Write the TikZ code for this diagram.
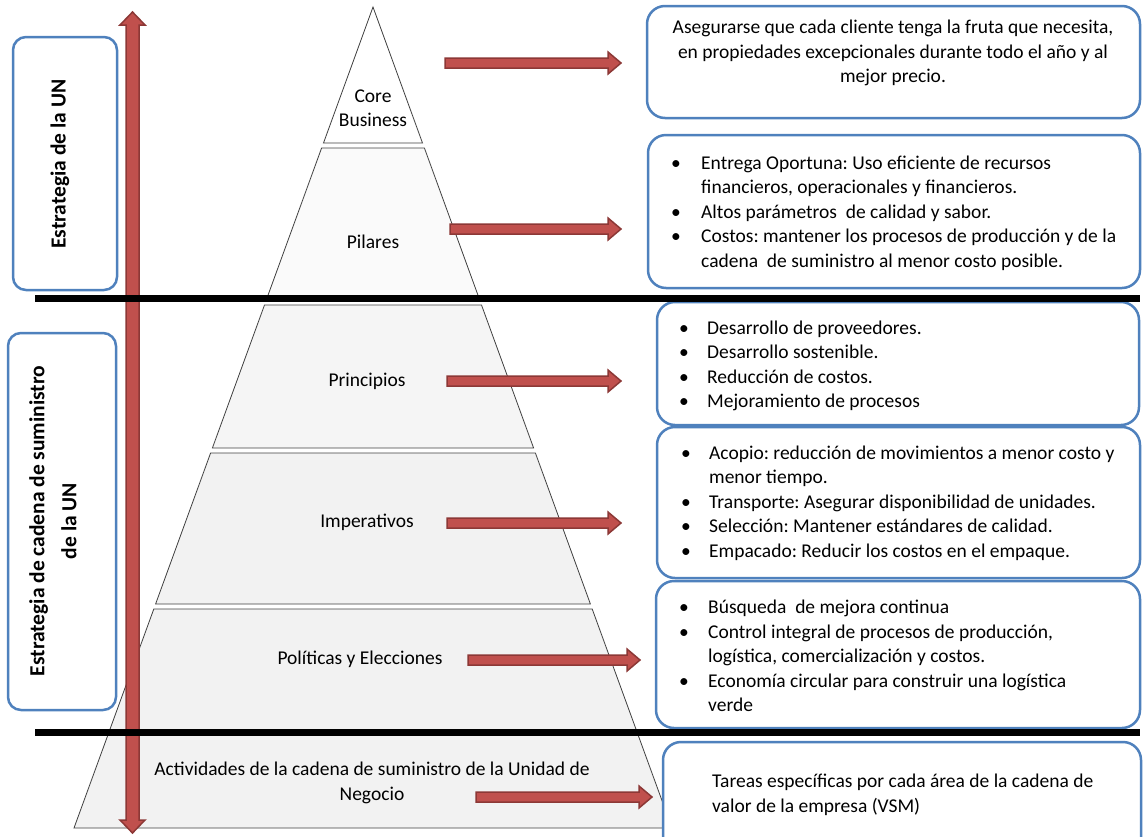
\documentclass[tikz,border=0pt]{standalone}
\usepackage{fontspec}
\setmainfont{Carlito}
\frenchspacing
\definecolor{boxblue}{HTML}{4F81BD}
\definecolor{arrred}{HTML}{C0504D}
\definecolor{arrdark}{HTML}{8C3836}
\newcommand{\bul}[1]{\makebox[#1][l]{\textbullet}}
\newcommand{\hblock}[3]{%
  \draw[redarr] (#1,#3-5) -- (#2-13,#3-5) -- (#2-13,#3-11) -- (#2,#3) -- (#2-13,#3+11) -- (#2-13,#3+5) -- (#1,#3+5) -- cycle;}
\begin{document}
\begin{tikzpicture}[x=1pt,y=-1pt,
  sect/.style={draw=black!75, line width=0.8pt, fill=black!5},
  bluebox/.style={draw=boxblue, line width=2.5pt, rounded corners=18pt, fill=white},
  leftbox/.style={draw=boxblue, line width=2.5pt, rounded corners=13pt, fill=white},
  lbl/.style={font=\fontsize{19.5}{24.5}\selectfont, align=center, inner sep=0pt},
  lst/.style={font=\fontsize{19.5}{24.5}\selectfont, align=left, inner sep=0pt, anchor=west},
  vlbl/.style={font=\fontsize{21.5}{32}\selectfont\bfseries, align=center, inner sep=0pt, rotate=90},
  redarr/.style={fill=arrred, draw=arrdark, line width=1.5pt, line join=miter},
  sepline/.style={line width=7pt, black}]
\useasboundingbox (0,0) rectangle (1143,836);
\clip (0,0) rectangle (1143,836);

% pyramid sections
\draw[sect, fill=white] (373,7) -- (422.5,143) -- (323.5,143) -- cycle;
\draw[sect, fill=black!2] (321.6,148) -- (424.4,148) -- (479,298) -- (267,298) -- cycle;
\draw[sect, fill=black!4] (264.5,305) -- (481.5,305) -- (533.6,448) -- (212.4,448) -- cycle;
\draw[sect] (210.6,453) -- (535.4,453) -- (590.4,604) -- (155.6,604) -- cycle;
\draw[sect] (153.8,609) -- (592.2,609) -- (636.3,730) -- (109.7,730) -- cycle;
\draw[sect] (107.9,735) -- (638.1,735) -- (672,828) -- (74,828) -- cycle;

% pyramid labels
\node[lbl] (core) at (373,108) {Core\\Business};
\node[lbl] (pil) at (373,242) {Pilares};
\node[lbl] (prin) at (367,381) {Principios};
\node[lbl] (imp) at (367,522) {Imperativos};
\node[lbl] (pol) at (360,659) {Políticas y Elecciones};
\node[lbl] (act) at (372,783) {Actividades de la cadena de suministro de la Unidad de\\Negocio};

% left boxes
\draw[leftbox] (13,37) rectangle (117,290);
\node[vlbl] (l1) at (60,164) {Estrategia de la UN};
\draw[leftbox] (8,333) rectangle (116,710);
\node[vlbl] (l2) at (53,521) {Estrategia de cadena de suministro\\de la UN};

% right boxes
\draw[bluebox] (647,6) rectangle (1140,118);
\node[lbl] (t1) at (893,53) {Asegurarse que cada cliente tenga la fruta que necesita,\\en propiedades excepcionales durante todo el año y al\\mejor precio.};

\draw[bluebox] (648,135) rectangle (1140,288);
\node[lst] (t2) at (671,213) {\bul{30pt}Entrega Oportuna: Uso eficiente de recursos\\
\hspace*{30pt}financieros, operacionales y financieros.\\
\bul{30pt}Altos parámetros\ \ de calidad y sabor.\\
\bul{30pt}Costos: mantener los procesos de producción y de la\\
\hspace*{30pt}cadena\ \ de suministro al menor costo posible.};

\draw[bluebox] (657,302) rectangle (1139,425);
\node[lst] (t3) at (679,366) {\bul{28pt}Desarrollo de proveedores.\\
\bul{28pt}Desarrollo sostenible.\\
\bul{28pt}Reducción de costos.\\
\bul{28pt}Mejoramiento de procesos};

\draw[bluebox] (657,427) rectangle (1140,578);
\node[lst] (t4) at (681,503) {\bul{28pt}Acopio: reducción de movimientos a menor costo y\\
\hspace*{28pt}menor tiempo.\\
\bul{28pt}Transporte: Asegurar disponibilidad de unidades.\\
\bul{28pt}Selección: Mantener estándares de calidad.\\
\bul{28pt}Empacado: Reducir los costos en el empaque.};

\draw[bluebox] (656,581) rectangle (1140,728);
\node[lst] (t5) at (679,656) {\bul{29pt}Búsqueda\ \ de mejora continua\\
\bul{29pt}Control integral de procesos de producción,\\
\hspace*{29pt}logística, comercialización y costos.\\
\bul{29pt}Economía circular para construir una logística\\
\hspace*{29pt}verde};

\draw[bluebox] (663,742) rectangle (1141,870);
\node[lst] (t6) at (712,795) {Tareas específicas por cada área de la cadena de\\valor de la empresa (VSM)};

% right arrows
\hblock{445}{621}{63}
\hblock{450}{621}{229}
\hblock{447}{621}{381}
\hblock{447}{621}{523}
\hblock{468}{640}{660}
\hblock{476}{652}{797}

% vertical double arrow
\draw[redarr] (132.5,12) -- (145,25) -- (139,25) -- (139,820) -- (145,820) -- (132.5,833) -- (120,820) -- (126,820) -- (126,25) -- (120,25) -- cycle;

% separator lines
\draw[sepline] (35,298) -- (1140,298);
\draw[sepline] (35,732) -- (1140,732);
\end{tikzpicture}
\end{document}
